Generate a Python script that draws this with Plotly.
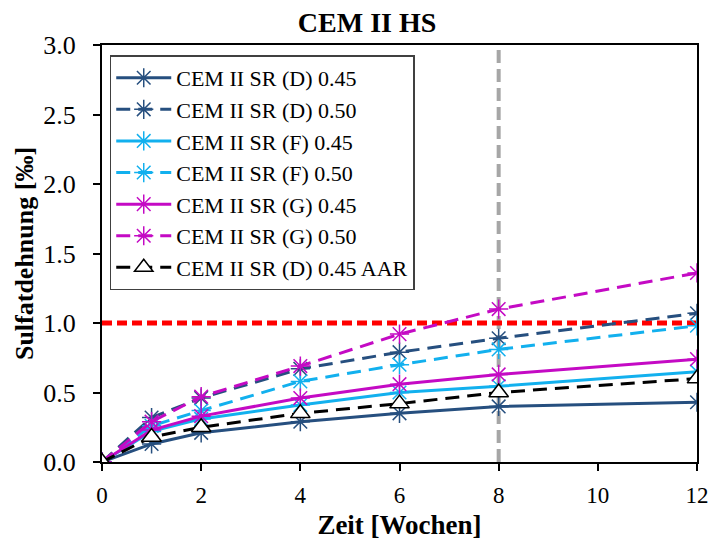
import plotly.graph_objects as go

weeks = [0, 1, 2, 4, 6, 8, 12]
d045 = [0.0, 0.13, 0.21, 0.29, 0.35, 0.40, 0.43]
d050 = [0.0, 0.32, 0.46, 0.67, 0.79, 0.89, 1.07]
f045 = [0.0, 0.22, 0.31, 0.41, 0.50, 0.545, 0.65]
f050 = [0.0, 0.26, 0.37, 0.58, 0.70, 0.81, 0.98]
g045 = [0.0, 0.23, 0.33, 0.46, 0.56, 0.63, 0.74]
g050 = [0.0, 0.29, 0.47, 0.69, 0.92, 1.10, 1.36]
d045_aar = [0.0, 0.18, 0.25, 0.35, 0.42, 0.50, 0.60]

names = ["CEM II SR (D) 0.45", "CEM II SR (D) 0.50", "CEM II SR (F) 0.45",
         "CEM II SR (F) 0.50", "CEM II SR (G) 0.45", "CEM II SR (G) 0.50",
         "CEM II SR (D) 0.45 AAR"]

DARK = "#264F7F"
LIGHT = "#12B0EE"
MAG = "#C40AC4"
DASH = "14px,8px"

fig = go.Figure()

# reference lines
fig.add_trace(go.Scatter(x=[8, 8], y=[0, 3], mode="lines", showlegend=False,
                         line=dict(color="#A6A6A6", width=4, dash="13px,6px"), hoverinfo="skip"))
fig.add_trace(go.Scatter(x=[0, 12], y=[1, 1], mode="lines", showlegend=False,
                         line=dict(color="#FF0000", width=5, dash="10px,5px"), hoverinfo="skip"))

series = [
    (d045, DARK, "solid"),
    (d050, DARK, DASH),
    (f045, LIGHT, "solid"),
    (f050, LIGHT, DASH),
    (g045, MAG, "solid"),
    (g050, MAG, DASH),
]
for (vals, col, dash), nm in zip(series, names[:6]):
    fig.add_trace(go.Scatter(
        x=weeks, y=vals, name=nm, mode="lines+markers",
        line=dict(color=col, width=3, dash=dash),
        marker=dict(symbol="asterisk-open", size=16, line=dict(color=col, width=1.5), color=col),
    ))

fig.add_trace(go.Scatter(
    x=weeks, y=d045_aar, name=names[6], mode="lines+markers",
    line=dict(color="black", width=3, dash=DASH),
    marker=dict(symbol="triangle-up", size=17, color="white", line=dict(color="black", width=1.5)),
))

font_family = "Liberation Serif, Times New Roman, serif"

fig.update_layout(
    width=710, height=540,
    margin=dict(l=102, r=13, t=45, b=78),
    paper_bgcolor="white", plot_bgcolor="white",
    font=dict(family=font_family, size=24, color="black"),
    title=dict(text="<b>CEM II HS</b>", xref="container", x=0.517, xanchor="center",
               yref="container", y=0.958, yanchor="middle",
               font=dict(size=28, family=font_family)),
    showlegend=True,
    legend=dict(x=0.013, y=0.975, xanchor="left", yanchor="top",
                bgcolor="white", bordercolor="#404040", borderwidth=1.5,
                font=dict(size=22, family=font_family), tracegroupgap=0,
                itemwidth=55),
    xaxis=dict(range=[0, 12], tickvals=[0, 2, 4, 6, 8, 10, 12], ticks="outside", ticklen=7,
               tickwidth=1.5, tickcolor="black", showline=True, linecolor="black", linewidth=2,
               mirror=True, showgrid=False, zeroline=False, ticklabelstandoff=4,
               automargin=False,
               title=dict(text="<b>Zeit [Wochen]</b>", standoff=10, font=dict(size=27)),
               tickfont=dict(size=23)),
    yaxis=dict(range=[0, 3], tickvals=[0, 0.5, 1, 1.5, 2, 2.5, 3], tickformat=".1f",
               ticks="outside", ticklen=7, tickwidth=1.5, tickcolor="black",
               showline=True, linecolor="black", linewidth=2, mirror=True,
               showgrid=False, zeroline=False, ticklabelstandoff=12,
               automargin=False,
               title=dict(text="<b>Sulfatdehnung [‰]</b>", standoff=2, font=dict(size=26)),
               tickfont=dict(size=26)),
)

fig.write_html("out.html")
